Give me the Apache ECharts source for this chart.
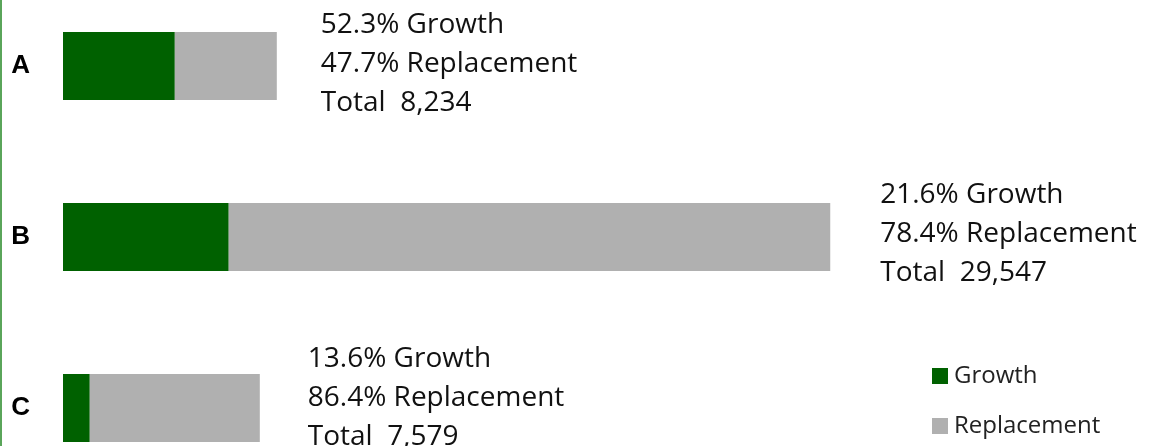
<!DOCTYPE html>
<html>
<head>
<meta charset="utf-8">
<script src="https://cdn.jsdelivr.net/npm/echarts@6/dist/echarts.min.js"></script>
<style>
  html, body { margin: 0; padding: 0; background: #fff; }
  #chart { width: 1150px; height: 446px; }
</style>
</head>
<body>
<div id="chart"></div>
<script>
var categories = ['A', 'B', 'C'];
var growthValues = [4306, 6382, 1031];
var replacementValues = [3928, 23165, 6548];
var growthPct = ['52.3%', '21.6%', '13.6%'];
var replacementPct = ['47.7%', '78.4%', '86.4%'];
var totalLabels = ['8,234', '29,547', '7,579'];
// small per-bar nudges so the text blocks sit like the original
var labelOffsets = [[0, -2], [6, -3], [4, -10]];

var chart = echarts.init(document.getElementById('chart'));

var replacementData = replacementValues.map(function (v, i) {
  return {
    value: v,
    label: {
      show: true,
      position: 'right',
      distance: 44,
      offset: labelOffsets[i],
      formatter: growthPct[i] + ' Growth\n' + replacementPct[i] + ' Replacement\nTotal  ' + totalLabels[i]
    }
  };
});

chart.setOption({
  animation: false,
  textStyle: { fontFamily: 'Open Sans' },
  graphic: [{
    type: 'rect',
    left: 0, top: 0,
    shape: { width: 2, height: 446 },
    style: { fill: '#5aa55a' }
  }],
  legend: {
    orient: 'vertical',
    left: 932,
    top: 364,
    padding: 0,
    itemWidth: 16,
    itemHeight: 16,
    itemGap: 26,
    icon: 'rect',
    textStyle: { fontSize: 24, lineHeight: 24, color: '#222', padding: [0, 0, 0, 1] },
    data: ['Growth', 'Replacement']
  },
  grid: { left: 63, top: 66, width: 779, height: 342 },
  xAxis: {
    type: 'value',
    min: 0,
    max: 30000,
    show: false
  },
  yAxis: {
    type: 'category',
    data: categories,
    inverse: true,
    boundaryGap: false,
    axisLine: { show: false },
    axisTick: { show: false },
    axisLabel: {
      margin: 33,
      fontSize: 26,
      fontWeight: 'bold',
      color: '#000',
      fontFamily: 'Liberation Sans'
    }
  },
  series: [
    {
      name: 'Growth',
      type: 'bar',
      stack: 'total',
      barWidth: 68,
      itemStyle: { color: '#006100' },
      data: growthValues
    },
    {
      name: 'Replacement',
      type: 'bar',
      stack: 'total',
      barWidth: 68,
      itemStyle: { color: '#b0b0b0' },
      label: {
        fontSize: 28,
        lineHeight: 39,
        color: '#111',
        align: 'left'
      },
      data: replacementData
    }
  ]
});
</script>
</body>
</html>
